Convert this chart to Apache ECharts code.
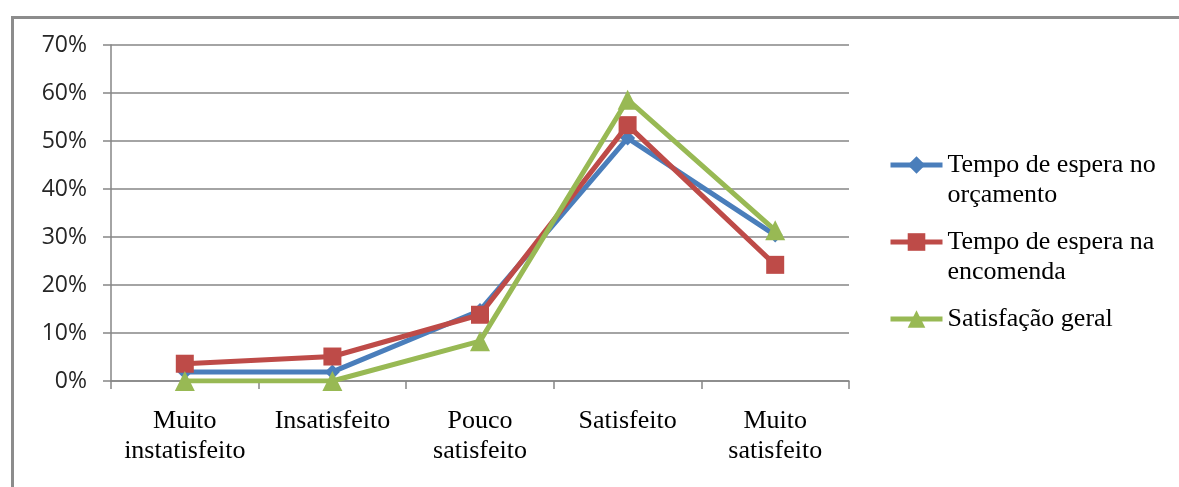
<!DOCTYPE html>
<html>
<head>
<meta charset="utf-8">
<script src="https://cdn.jsdelivr.net/npm/echarts@6/dist/echarts.min.js"></script>
<style>
html,body{margin:0;padding:0;background:#fff;}
#chart{width:1179px;height:487px;}
</style>
</head>
<body>
<div id="chart"></div>
<script>
const categories = ['Muito\ninstatisfeito', 'Insatisfeito', 'Pouco\nsatisfeito', 'Satisfeito', 'Muito\nsatisfeito'];
const seriesNames = ['Tempo de espera no orçamento', 'Tempo de espera na encomenda', 'Satisfação geral'];
const legendLabels = ['Tempo de espera no\norçamento', 'Tempo de espera na\nencomenda', 'Satisfação geral\n'];
const orcamento = [1.9, 1.9, 14.7, 50.6, 30.4];
const encomenda = [3.6, 5.1, 13.8, 53.3, 24.2];
const satisfacao = [0, 0, 8.3, 58.6, 31.4];
const yTicks = {min: 0, max: 70, interval: 10};

const colors = ['#4a7ebb', '#be4b48', '#98b954'];
const symbols = ['diamond', 'rect', 'triangle'];
const symbolSizes = [15, 18, 20];
const values = [orcamento, encomenda, satisfacao];
const serifFont = "'Liberation Serif', 'Times New Roman', serif";
const sansFont = "'Open Sans', sans-serif";

const chart = echarts.init(document.getElementById('chart'));
chart.setOption({
  backgroundColor: '#fff',
  animation: false,
  graphic: [{
    type: 'rect',
    left: 10, top: 15,
    shape: {width: 1400, height: 700},
    style: {fill: 'none', stroke: '#8c8c8c', lineWidth: 3},
    silent: true, z: -10
  }],
  grid: {left: 111, right: 330, top: 45, bottom: 106, containLabel: false},
  xAxis: {
    type: 'category',
    data: categories,
    boundaryGap: true,
    axisLine: {lineStyle: {color: '#868686', width: 1.5}},
    axisTick: {show: true, length: 8, alignWithLabel: false, lineStyle: {color: '#868686', width: 1.5}},
    axisLabel: {
      interval: 0, margin: 25, color: '#000',
      fontFamily: serifFont, fontSize: 26, lineHeight: 30
    },
    splitLine: {show: false}
  },
  yAxis: {
    type: 'value',
    min: yTicks.min, max: yTicks.max, interval: yTicks.interval,
    axisLine: {show: true, lineStyle: {color: '#868686', width: 1.5}},
    axisTick: {show: true, length: 8, lineStyle: {color: '#868686', width: 1.5}},
    axisLabel: {formatter: '{value}%', margin: 24, color: '#262626', fontFamily: sansFont, fontSize: 23},
    splitLine: {lineStyle: {color: '#868686', width: 1.5}}
  },
  legend: {
    orient: 'vertical',
    left: 888, top: 120,
    itemWidth: 52, itemHeight: 22, itemGap: -13,
    data: seriesNames,
    formatter: function (name) {
      return '\n' + legendLabels[seriesNames.indexOf(name)];
    },
    lineStyle: {width: 5},
    textStyle: {fontFamily: serifFont, fontSize: 26, lineHeight: 30, color: '#000'},
    padding: 0
  },
  series: seriesNames.map(function (n, i) {
    return {
      name: n,
      type: 'line',
      data: values[i],
      symbol: symbols[i],
      symbolSize: symbolSizes[i],
      showAllSymbol: true,
      lineStyle: {color: colors[i], width: 5},
      itemStyle: {color: colors[i]},
      z: 2 + i
    };
  })
});
</script>
</body>
</html>
